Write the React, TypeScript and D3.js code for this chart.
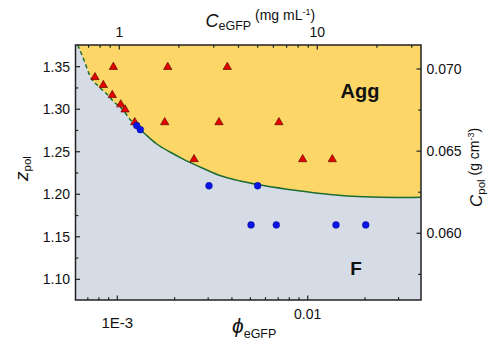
import React from "react";
import * as d3 from "d3";

// ---- data ----
const aggPhi = [9.53e-4, 1.84e-3, 3.78e-3, 7.63e-4, 8.44e-4, 9.41e-4, 1.042e-3, 1.098e-3, 1.234e-3, 1.774e-3, 3.42e-3, 7.06e-3, 2.53e-3, 9.41e-3, 1.346e-2];
const aggZ = [1.351, 1.351, 1.351, 1.339, 1.3297, 1.318, 1.307, 1.301, 1.286, 1.286, 1.286, 1.286, 1.2426, 1.2425, 1.2425];

const fluidPhi = [1.264e-3, 1.321e-3, 3.03e-3, 5.46e-3, 5.04e-3, 6.84e-3, 1.408e-2, 2.017e-2];
const fluidZ = [1.2808, 1.276, 1.21, 1.21, 1.164, 1.164, 1.164, 1.164];

const boundaryPhi = [6.19e-4, 6.68e-4, 7.19e-4, 7.92e-4, 8.8e-4, 9.61e-4, 1.055e-3, 1.18e-3, 1.269e-3, 1.398e-3, 1.61e-3, 1.891e-3, 2.179e-3, 2.719e-3, 3.393e-3, 4.41e-3, 5.85e-3, 8.75e-3, 1.309e-2, 1.959e-2, 2.934e-2, 3.936e-2];
const boundaryZ = [1.3755, 1.3579, 1.3391, 1.3273, 1.3179, 1.3085, 1.3008, 1.2867, 1.2797, 1.2709, 1.2591, 1.2497, 1.2423, 1.2321, 1.2227, 1.2156, 1.2103, 1.2044, 1.1997, 1.197, 1.1962, 1.1964];
const dashedUntilPhi = 1.25e-3;

const leftTicks = [1.1, 1.15, 1.2, 1.25, 1.3, 1.35];
const leftMinor = [1.125, 1.175, 1.225, 1.275, 1.325];
const rightTicks = [0.06, 0.065, 0.07];
const rightMinor = [0.0575, 0.0625, 0.0675];
const bottomMajor = [1e-3, 1e-2];
const bottomLabels = ["1E-3", "0.01"];
const bottomMinor = [7e-4, 8e-4, 9e-4, 2e-3, 3e-3, 4e-3, 5e-3, 6e-3, 7e-3, 8e-3, 9e-3, 2e-2, 3e-2];
const topMajor = [1, 10];
const topLabels = ["1", "10"];
const topMinor = [0.7, 0.8, 0.9, 2, 3, 4, 5, 6, 7, 8, 9, 20, 30];

const xDomain: [number, number] = [6.03e-4, 0.03936];
const topDomain: [number, number] = [0.601, 33.4];
const yDomain: [number, number] = [1.0757, 1.3755];
const rightDomain: [number, number] = [0.05594, 0.07146];

// ---- layout ----
const W = 491, H = 344;
const L = 75.5, R = 421, T = 45, B = 300;
const FONT = "Arial, 'Liberation Sans', Helvetica, sans-serif";
const YELLOW = "#FCD767";
const GREY = "#D6DCE6";
const GREEN = "#1C6B33";
const AX = "#222";

export default function App() {
  const x = d3.scaleLog().domain(xDomain).range([L, R]);
  const xt = d3.scaleLog().domain(topDomain).range([L, R]);
  const y = d3.scaleLinear().domain(yDomain).range([B, T]);
  const yr = d3.scaleLinear().domain(rightDomain).range([B, T]);

  const bnd = boundaryPhi.map((p, i) => [p, boundaryZ[i]] as [number, number]);
  const area = d3.area<[number, number]>()
    .x(d => x(d[0])).y0(T).y1(d => y(d[1])).curve(d3.curveMonotoneX);
  const line = d3.line<[number, number]>()
    .x(d => x(d[0])).y(d => y(d[1])).curve(d3.curveMonotoneX);
  const splitX = x(dashedUntilPhi);

  const triSize = 30;
  const tri = d3.symbol().type(d3.symbolTriangle).size(triSize)()!;
  const triH = Math.sqrt(triSize * 4 / Math.sqrt(3)) * Math.sqrt(3) / 2;

  const tickLen = 4.5, minorLen = 2.8;

  return (
    <svg width={W} height={H} style={{ position: "absolute", left: 0, top: 0, background: "#fff" }} fontFamily={FONT}>
      <defs>
        <clipPath id="plot"><rect x={L} y={T} width={R - L} height={B - T} /></clipPath>
        <clipPath id="leftPart"><rect x={L} y={T} width={splitX - L} height={B - T} /></clipPath>
        <clipPath id="rightPart"><rect x={splitX} y={T} width={R - splitX} height={B - T} /></clipPath>
      </defs>
      <rect x={L} y={T} width={R - L} height={B - T} fill={GREY} />
      <g clipPath="url(#plot)">
        <path d={area(bnd)!} fill={YELLOW} />
      </g>
      <g clipPath="url(#leftPart)">
        <path d={line(bnd)!} fill="none" stroke={GREEN} strokeWidth={1.5} strokeDasharray="4,3" />
      </g>
      <g clipPath="url(#rightPart)">
        <path d={line(bnd)!} fill="none" stroke={GREEN} strokeWidth={1.5} />
      </g>

      {/* points */}
      {aggPhi.map((p, i) => (
        <path key={"a" + i} d={tri} transform={`translate(${x(p)},${y(aggZ[i]) + triH / 6})`}
          fill="#E80000" stroke="#5a0a00" strokeWidth={0.7} />
      ))}
      {fluidPhi.map((p, i) => (
        <circle key={"f" + i} cx={x(p)} cy={y(fluidZ[i])} r={3.4} fill="#0A14E6" stroke="#06108a" strokeWidth={0.5} />
      ))}

      {/* frame */}
      <rect x={L} y={T} width={R - L} height={B - T} fill="none" stroke={AX} strokeWidth={1.5} />

      {/* left ticks */}
      {leftTicks.map((v, i) => (
        <g key={"lt" + i}>
          <line x1={L} x2={L + tickLen} y1={y(v)} y2={y(v)} stroke={AX} strokeWidth={1.2} />
          <text x={70} y={y(v)} dy="0.36em" textAnchor="end" fontSize={14} fill="#111">{v.toFixed(2)}</text>
        </g>
      ))}
      {leftMinor.map((v, i) => (
        <line key={"lm" + i} x1={L} x2={L + minorLen} y1={y(v)} y2={y(v)} stroke={AX} strokeWidth={1.2} />
      ))}
      {/* right ticks */}
      {rightTicks.map((v, i) => (
        <g key={"rt" + i}>
          <line x1={R} x2={R - tickLen} y1={yr(v)} y2={yr(v)} stroke={AX} strokeWidth={1.2} />
          <text x={426.5} y={yr(v)} dy="0.36em" textAnchor="start" fontSize={14} fill="#111">{v.toFixed(3)}</text>
        </g>
      ))}
      {rightMinor.map((v, i) => (
        <line key={"rm" + i} x1={R} x2={R - minorLen} y1={yr(v)} y2={yr(v)} stroke={AX} strokeWidth={1.2} />
      ))}
      {/* bottom ticks */}
      {bottomMajor.map((v, i) => (
        <g key={"bt" + i}>
          <line x1={x(v)} x2={x(v)} y1={B} y2={B - tickLen} stroke={AX} strokeWidth={1.2} />
          <text x={x(v)} y={i === 0 ? 327.5 : 318.5} textAnchor="middle" fontSize={i === 0 ? 15 : 14} fill="#111">{bottomLabels[i]}</text>
        </g>
      ))}
      {bottomMinor.map((v, i) => (
        <line key={"bm" + i} x1={x(v)} x2={x(v)} y1={B} y2={B - minorLen} stroke={AX} strokeWidth={1.2} />
      ))}
      {/* top ticks */}
      {topMajor.map((v, i) => (
        <g key={"tt" + i}>
          <line x1={xt(v)} x2={xt(v)} y1={T} y2={T + tickLen} stroke={AX} strokeWidth={1.2} />
          <text x={xt(v)} y={36.5} textAnchor="middle" fontSize={14} fill="#111">{topLabels[i]}</text>
        </g>
      ))}
      {topMinor.map((v, i) => (
        <line key={"tm" + i} x1={xt(v)} x2={xt(v)} y1={T} y2={T + minorLen} stroke={AX} strokeWidth={1.2} />
      ))}

      {/* region labels */}
      <text x={360} y={98} textAnchor="middle" fontSize={20} fontWeight="bold" fill="#111">Agg</text>
      <text x={356} y={275} textAnchor="middle" fontSize={19} fontWeight="bold" fill="#111">F</text>

      {/* axis titles */}
      <text x={205.5} y={27} fill="#111">
        <tspan fontStyle="italic" fontSize={18}>C</tspan>
        <tspan fontSize={12.5} dy={2.5}>eGFP</tspan>
        <tspan fontSize={14} dy={-9.5}> (mg mL</tspan>
        <tspan fontSize={9} dy={-5}>-1</tspan>
        <tspan fontSize={14} dy={5}>)</tspan>
      </text>
      <text x={232} y={333} fill="#111">
        <tspan fontStyle="italic" fontSize={21}>ϕ</tspan>
        <tspan fontSize={12.5} dy={4.5}>eGFP</tspan>
      </text>
      <text transform="translate(28,181) rotate(-90)" fill="#111">
        <tspan fontStyle="italic" fontSize={19}>z</tspan>
        <tspan fontSize={11.5} dy={2.5}>pol</tspan>
      </text>
      <text transform="translate(482,207) rotate(-90)" fill="#111">
        <tspan fontStyle="italic" fontSize={17}>C</tspan>
        <tspan fontSize={11.5} dy={2.5}>pol</tspan>
        <tspan fontSize={14} dy={-5.2}> (g cm</tspan>
        <tspan fontSize={9} dy={-5}>-3</tspan>
        <tspan fontSize={14} dy={5}>)</tspan>
      </text>
    </svg>
  );
}
